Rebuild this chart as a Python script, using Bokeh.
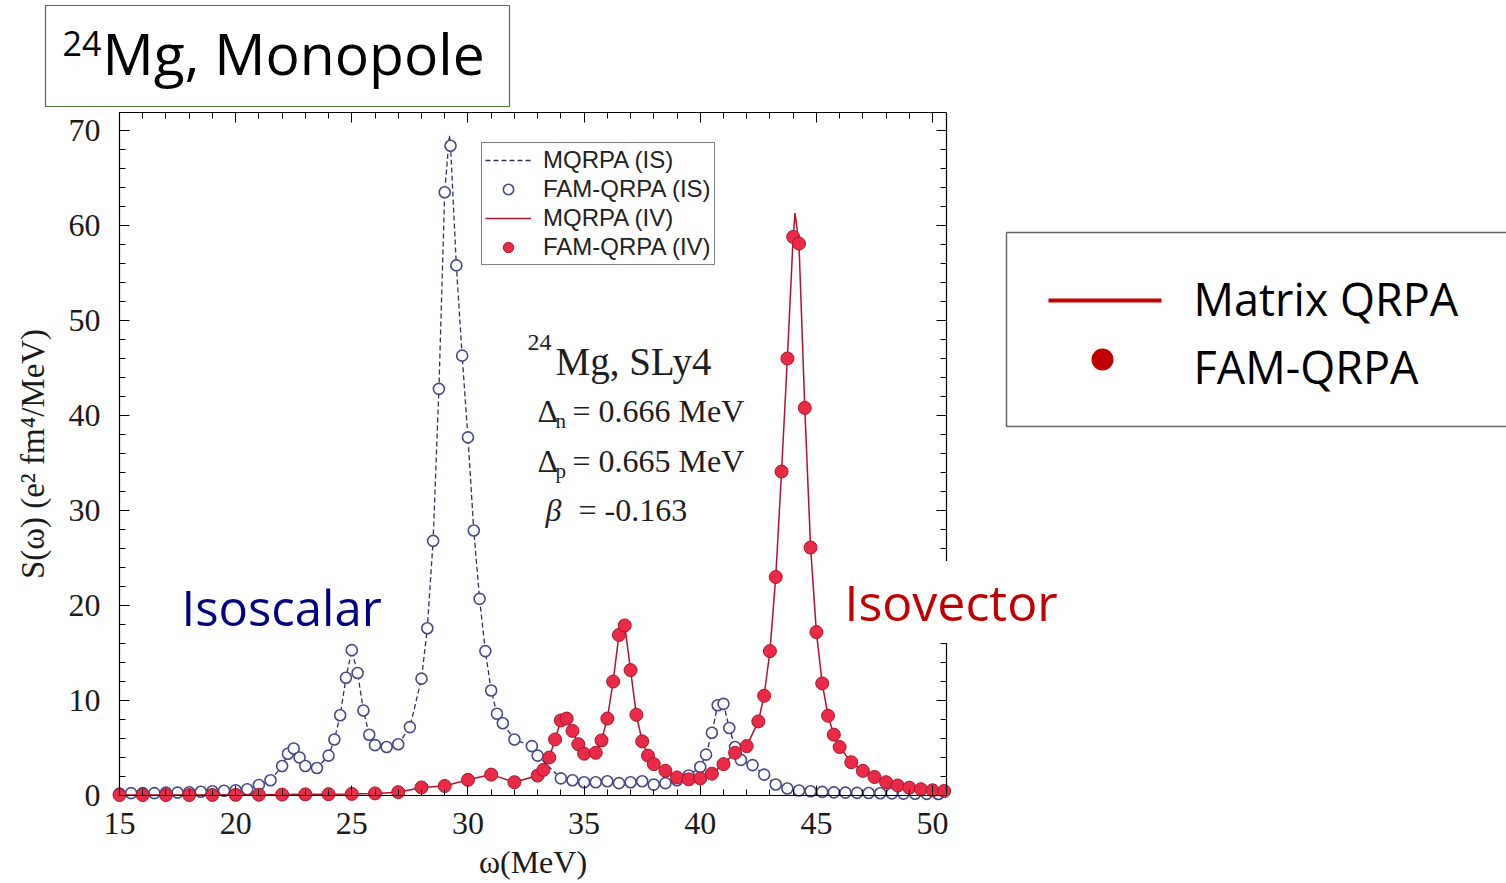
from bokeh.plotting import figure
from bokeh.models import (Range1d, LinearAxis, FixedTicker, Label, BoxAnnotation,
                          Legend, LegendItem)
from bokeh.embed import file_html
from bokeh.resources import INLINE

# ---------------- data ----------------
is_energy = [15.0, 15.5, 16.0, 16.5, 17.0, 17.5, 18.0, 18.5, 19.0, 19.5, 20.0, 20.5, 21.0,
             21.5, 22.0, 22.25, 22.5, 22.75, 23.0, 23.5, 24.0, 24.25, 24.5, 24.75, 25.0,
             25.25, 25.5, 25.75, 26.0, 26.5, 27.0, 27.5, 28.0, 28.25, 28.5, 28.75, 29.0,
             29.25, 29.5, 29.75, 30.0, 30.25, 30.5, 30.75, 31.0, 31.25, 31.5, 32.0, 32.75,
             33.0, 34.0, 34.5, 35.0, 35.5, 36.0, 36.5, 37.0, 37.5, 38.0, 38.5, 39.0, 39.5,
             40.0, 40.25, 40.5, 40.75, 41.0, 41.25, 41.5, 41.75, 42.25, 42.75, 43.25, 43.75,
             44.25, 44.75, 45.25, 45.75, 46.25, 46.75, 47.25, 47.75, 48.25, 48.75, 49.25,
             49.75, 50.25]
is_strength = [0.2, 0.25, 0.25, 0.25, 0.3, 0.3, 0.35, 0.4, 0.45, 0.5, 0.55, 0.66, 1.1,
               1.6, 3.1, 4.4, 4.95, 4.0, 3.1, 2.9, 4.2, 5.9, 8.45, 12.4, 15.3,
               12.9, 8.95, 6.4, 5.3, 5.1, 5.4, 7.2, 12.3, 17.6, 26.8, 42.8, 63.5,
               68.4, 55.8, 46.3, 37.7, 27.9, 20.7, 15.2, 11.05, 8.6, 7.6, 5.9, 5.2,
               4.2, 1.8, 1.6, 1.4, 1.4, 1.5, 1.3, 1.4, 1.5, 1.15, 1.3, 1.6, 2.1,
               3.0, 4.3, 6.6, 9.5, 9.65, 7.1, 5.1, 3.75, 3.2, 2.2, 1.16, 0.74,
               0.53, 0.45, 0.38, 0.33, 0.3, 0.28, 0.26, 0.24, 0.22, 0.2, 0.18,
               0.17, 0.16]

iv_energy = [15, 16, 17, 18, 19, 20, 21, 22, 23, 24, 25, 26, 27, 28, 29, 30, 31, 32, 33,
             33.25, 33.5, 33.75, 34.0, 34.25, 34.5, 34.75, 35.0, 35.5, 35.75, 36.0, 36.25,
             36.5, 36.75, 37.0, 37.25, 37.5, 37.75, 38.0, 38.5, 39.0, 39.5, 40.0, 40.5,
             41.0, 41.5, 42.0, 42.5, 42.75, 43.0, 43.25, 43.5, 43.75, 44.0, 44.25, 44.5,
             44.75, 45.0, 45.25, 45.5, 45.75, 46.0, 46.5, 47.0, 47.5, 48.0, 48.5, 49.0,
             49.5, 50.0, 50.5]
iv_strength = [0.05, 0.05, 0.05, 0.05, 0.06, 0.07, 0.08, 0.1, 0.12, 0.14, 0.17, 0.22, 0.35,
               0.85, 1.0, 1.65, 2.2, 1.4, 2.1, 2.7, 4.0, 5.9, 7.9, 8.1, 6.8, 5.4, 4.4,
               4.5, 5.8, 8.1, 12.0, 16.9, 17.9, 13.2, 8.5, 5.7, 4.2, 3.3, 2.6, 1.9, 1.7,
               1.8, 2.3, 3.3, 4.5, 5.2, 7.8, 10.5, 15.2, 23.0, 34.1, 46.0, 58.8, 58.1,
               40.8, 26.1, 17.2, 11.8, 8.4, 6.4, 5.1, 3.5, 2.6, 1.95, 1.4, 1.05, 0.82,
               0.66, 0.55, 0.47]

# apex of the matrix-QRPA curves (above the FAM points)
is_apex = (29.2, 69.5)
iv_apex = (44.08, 61.3)

x_ticks = [15, 20, 25, 30, 35, 40, 45, 50]
y_ticks = [0, 10, 20, 30, 40, 50, 60, 70]
x_bounds = (15.0, 50.6)
y_bounds = (0.0, 71.9)
legend_labels = ["MQRPA (IS)", "FAM-QRPA (IS)", "MQRPA (IV)", "FAM-QRPA (IV)"]


def with_apex(xs, ys, apex):
    pts = sorted(list(zip(xs, ys)) + [apex])
    return [a for a, _ in pts], [b for _, b in pts]


mq_is_x, mq_is_y = with_apex(is_energy, is_strength, is_apex)
mq_iv_x, mq_iv_y = with_apex(iv_energy, iv_strength, iv_apex)

# ---------------- layout ----------------
W, H = 1506, 883
OX, OY = 119, 795          # pixel position of (15 MeV, 0)
SX, SY = 23.23, 9.5        # pixels per MeV / per unit of S
X0 = 15 - OX / SX
X1 = 15 + (W - OX) / SX
Y0 = -(H - OY) / SY
Y1 = OY / SY


def dx(px):  # page pixel -> data x
    return 15 + (px - OX) / SX


def dy(py):  # page pixel -> data y
    return (OY - py) / SY


p = figure(width=W, height=H, x_range=Range1d(X0, X1), y_range=Range1d(Y0, Y1),
           output_backend="svg", toolbar_location=None, title=None,
           x_axis_type=None, y_axis_type=None, min_border=0)
p.xgrid.visible = False
p.ygrid.visible = False
p.outline_line_color = None
p.background_fill_color = "white"
p.border_fill_color = "white"

SERIF = "Liberation Serif"
x_ticker = FixedTicker(ticks=x_ticks, minor_ticks=list(range(15, 51)))
y_ticker = FixedTicker(ticks=y_ticks, minor_ticks=list(range(0, 72, 2)))


def make_axis(ticker, loc, bounds, labels=True):
    ax = LinearAxis(ticker=ticker, fixed_location=loc, bounds=bounds)
    ax.axis_line_color = "black"
    ax.axis_line_width = 1.2
    ax.major_tick_in = 10
    ax.major_tick_out = 0
    ax.minor_tick_in = 6
    ax.minor_tick_out = 0
    ax.major_tick_line_color = "black"
    ax.minor_tick_line_color = "black"
    ax.major_label_text_font = SERIF
    ax.major_label_text_font_size = "32px"
    ax.major_label_text_color = "#1a1a1a"
    if not labels:
        ax.major_label_overrides = {t: "" for t in ticker.ticks}
        ax.major_label_standoff = 0
    return ax


bottom = make_axis(x_ticker, 0.0, x_bounds)
bottom.major_label_standoff = 17
bottom.axis_label = "ω(MeV)"
bottom.axis_label_text_font = SERIF
bottom.axis_label_text_font_style = "normal"
bottom.axis_label_text_font_size = "32px"
bottom.axis_label_text_color = "#1a1a1a"
bottom.axis_label_standoff = 7

left = make_axis(y_ticker, 15.0, y_bounds)
left.major_label_standoff = 19
left.axis_label = "S(ω) (e² fm⁴/MeV)"
left.axis_label_text_font = SERIF
left.axis_label_text_font_style = "normal"
left.axis_label_text_font_size = "33px"
left.axis_label_text_color = "#1a1a1a"
left.axis_label_standoff = 15

top = make_axis(x_ticker, y_bounds[1], x_bounds, labels=False)
right = make_axis(y_ticker, x_bounds[1], y_bounds, labels=False)
p.add_layout(bottom, "below")
p.add_layout(left, "left")
p.add_layout(top, "above")
p.add_layout(right, "right")

# ---------------- series ----------------
IS_LINE = "#2c2f66"
IS_MARK = "#464a82"
IV_LINE = "#b0122e"
IV_FILL = "#ea2a46"
IV_EDGE = "#a5182d"

r1 = p.line(mq_is_x, mq_is_y, line_color=IS_LINE, line_dash="5 3", line_width=1.3)
r2 = p.scatter(is_energy, is_strength, marker="circle", size=11, line_color=IS_MARK,
               fill_color="white", line_width=1.6)
r3 = p.line(mq_iv_x, mq_iv_y, line_color=IV_LINE, line_width=1.5)
r4 = p.scatter(iv_energy, iv_strength, marker="circle", size=13, line_color=IV_EDGE,
               fill_color=IV_FILL, line_width=1)

legend = Legend(items=[LegendItem(label=lab_, renderers=[r])
                       for lab_, r in zip(legend_labels, [r1, r2, r3, r4])],
                location=(481, H - 265))
legend.border_line_color = "black"
legend.border_line_width = 1.5
legend.background_fill_color = "white"
legend.background_fill_alpha = 1
legend.padding = 3
legend.spacing = 1
legend.margin = 0
legend.glyph_width = 46
legend.glyph_height = 26
legend.label_height = 26
legend.label_standoff = 12
legend.label_text_font = "Liberation Sans"
legend.label_text_font_size = "24px"
legend.label_text_color = "#222222"
p.add_layout(legend)

# ---------------- text helpers ----------------
TXT = "#1e1e1e"
SANS = "Open Sans"
MID = {SERIF: 0.3375, SANS: 0.388}   # (ascent - descent)/2 in em


def lab(x, baseline, text, size, font=SERIF, color=TXT, style="normal", **kw):
    y = baseline - MID[font] * size
    p.add_layout(Label(x=dx(x), y=dy(y), text=text, text_font=font,
                       text_font_size=f"{size}px", text_color=color,
                       text_font_style=style, text_baseline="middle", **kw))


# in-plot annotation (serif)
lab(527, 350, "24", 24)
lab(555, 374, "Mg, SLy4", 39)
lab(537, 421, "Δ", 32)
lab(555, 428, "n", 21)
lab(572, 421, "= 0.666 MeV", 32)
lab(537, 471, "Δ", 32)
lab(555, 478, "p", 21)
lab(572, 471, "= 0.665 MeV", 32)
lab(545, 520, "β", 32, style="italic")
lab(578, 520, "= -0.163", 32)

lab(181, 626, "Isoscalar", 49, font=SANS, color="#000080")
lab(837, 621, "Isovector", 50, font=SANS, color="#c00000",
    background_fill_color="white", background_fill_alpha=1, padding=7)

# ---------------- title box ----------------
p.add_layout(BoxAnnotation(left=dx(45), right=dx(509), top=dy(5), bottom=dy(106),
                           fill_alpha=0, line_color="#55793a", line_alpha=1,
                           line_width=1.2))
lab(62, 56, "24", 34, font=SANS, color="black")
lab(102, 75, "Mg, Monopole", 57, font=SANS, color="black")

# ---------------- outer legend box ----------------
p.add_layout(BoxAnnotation(left=dx(1006), right=dx(1540), top=dy(232), bottom=dy(426),
                           fill_alpha=0, line_color="#666666", line_alpha=1,
                           line_width=1.5))
p.add_layout(BoxAnnotation(left=dx(1048), right=dx(1161), top=dy(298), bottom=dy(302),
                           fill_color="#c00000", fill_alpha=1, line_color=None))
p.add_layout(BoxAnnotation(left=dx(1091), right=dx(1113), top=dy(348), bottom=dy(370),
                           fill_color="#c00000", fill_alpha=1, line_color=None,
                           border_radius=11))
lab(1193, 315, "Matrix QRPA", 45, font=SANS, color="black")
lab(1193, 383, "FAM-QRPA", 45, font=SANS, color="black")

open("out.html", "w").write(file_html(p, INLINE))
